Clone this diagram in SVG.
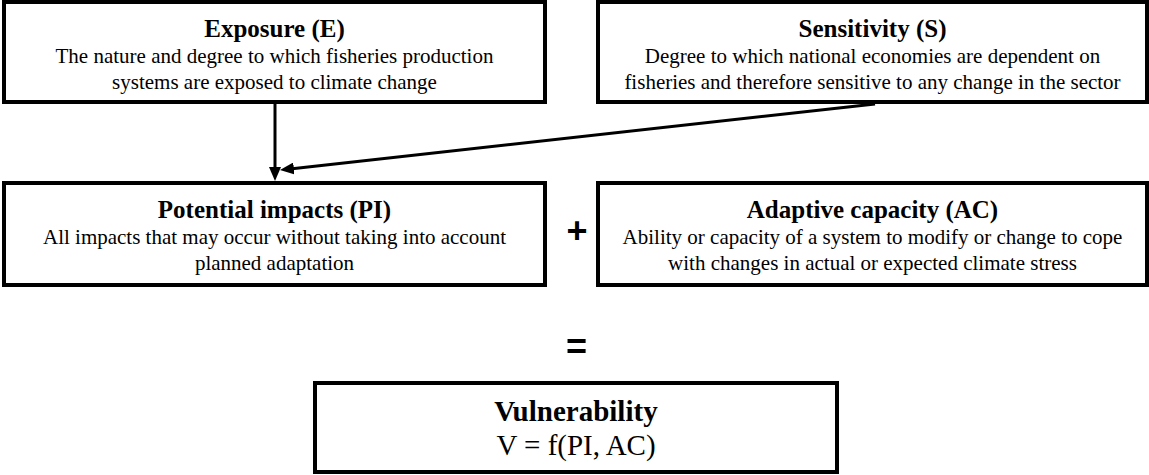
<svg xmlns="http://www.w3.org/2000/svg" width="1149" height="475" viewBox="0 0 1149 475">
<style>
.box{fill:#fff;stroke:#000;stroke-width:4}
.t{font-family:"Liberation Serif","Times New Roman",serif;font-weight:bold;font-size:25px;text-anchor:middle;fill:#000}
.b{font-family:"Liberation Serif","Times New Roman",serif;font-size:21px;text-anchor:middle;fill:#000}
.v{font-family:"Liberation Serif","Times New Roman",serif;font-size:29px;text-anchor:middle;fill:#000}
.op{font-family:"Liberation Sans",Arial,sans-serif;font-weight:bold;font-size:36px;text-anchor:middle;fill:#000}
.c{stroke:#000;stroke-width:3;fill:none}
</style>
<defs>
<marker id="ah" markerUnits="userSpaceOnUse" markerWidth="14" markerHeight="12" viewBox="0 0 14 12" refX="4" refY="6" orient="auto">
<path d="M0,0 L14,6 L0,12 z" fill="#000"/>
</marker>
</defs>
<g id="exposure">
<rect class="box" x="4" y="2" width="541" height="100"/>
<text class="t" x="274.5" y="37">Exposure (E)</text>
<text class="b" x="274.5" y="63">The nature and degree to which fisheries production</text>
<text class="b" x="274.5" y="89">systems are exposed to climate change</text>
</g>
<g id="sensitivity">
<rect class="box" x="598" y="2" width="549" height="100"/>
<text class="t" x="872.5" y="37">Sensitivity (S)</text>
<text class="b" x="872.5" y="63">Degree to which national economies are dependent on</text>
<text class="b" x="872.5" y="89">fisheries and therefore sensitive to any change in the sector</text>
</g>
<g id="potential-impacts">
<rect class="box" x="4" y="183" width="541" height="102"/>
<text class="t" x="274.5" y="218">Potential impacts (PI)</text>
<text class="b" x="274.5" y="244">All impacts that may occur without taking into account</text>
<text class="b" x="274.5" y="270">planned adaptation</text>
</g>
<g id="adaptive-capacity">
<rect class="box" x="598" y="183" width="549" height="102"/>
<text class="t" x="872.5" y="218">Adaptive capacity (AC)</text>
<text class="b" x="872.5" y="244">Ability or capacity of a system to modify or change to cope</text>
<text class="b" x="872.5" y="270">with changes in actual or expected climate stress</text>
</g>
<g id="plus"><text class="op" x="577" y="243">+</text></g>
<g id="equals"><text class="op" x="576.5" y="359">=</text></g>
<g id="vulnerability">
<rect class="box" x="315" y="383" width="522" height="89"/>
<text class="v" x="576" y="421" font-weight="bold">Vulnerability</text>
<text class="v" x="576" y="455">V = f(PI, AC)</text>
</g>
<g id="connectors">
<path class="c" d="M275,104 L275,171" marker-end="url(#ah)"/>
<path class="c" d="M875,104 L289.9,168.9" marker-end="url(#ah)"/>
</g>
</svg>
